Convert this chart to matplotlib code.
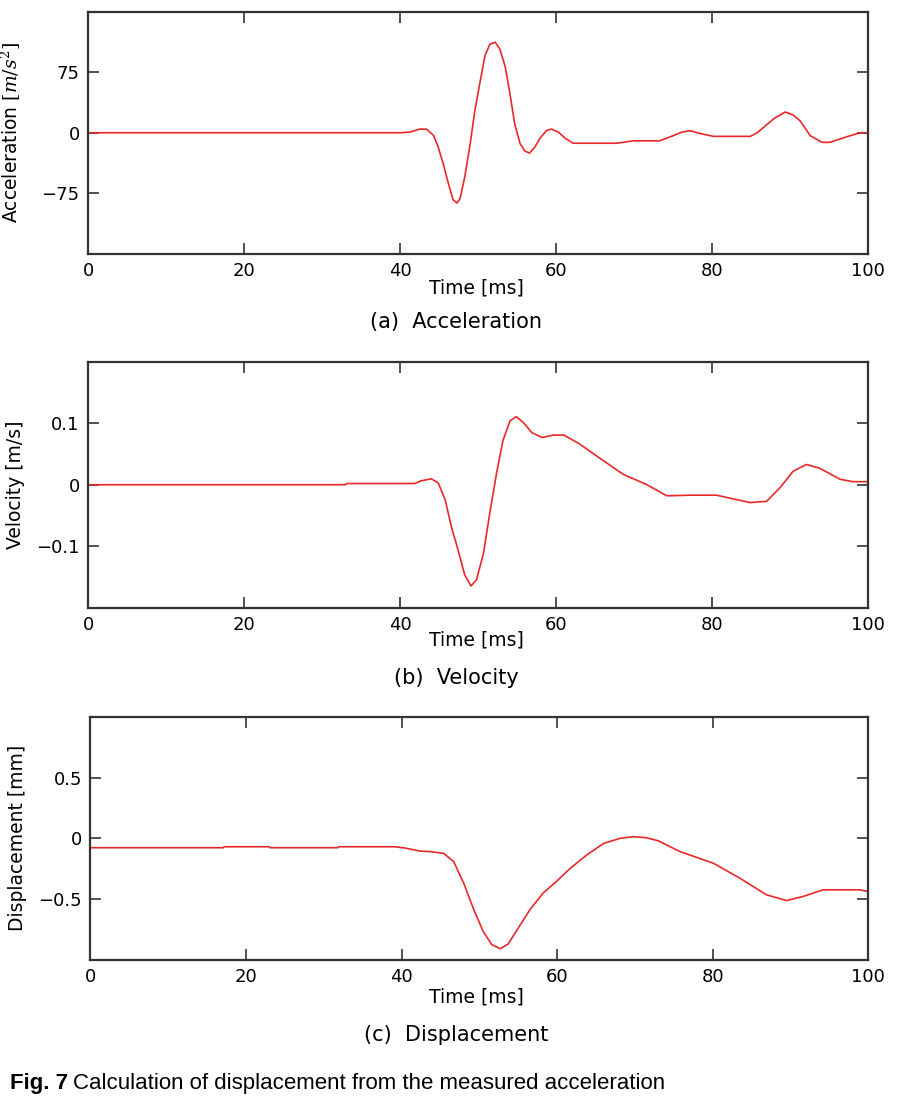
import numpy as np
import matplotlib
matplotlib.use("Agg")
import matplotlib.pyplot as plt

# ---- data (time in ms) ----
acc_t = [0, 40.0, 41.3, 42.5, 43.4, 44.3, 44.9, 45.6, 46.2, 46.8, 47.3, 47.7,
         48.3, 49.0, 49.6, 50.3, 50.9, 51.5, 52.2, 52.8, 53.5, 54.1, 54.7, 55.4,
         56.0, 56.6, 57.3, 57.9, 58.8, 59.4, 60.3, 61.2, 62.2, 67.8, 69.9, 73.3,
         75.0, 76.2, 77.2, 78.5, 80.2, 84.9, 85.8, 86.6, 88.0, 89.4, 90.4, 91.3,
         92.6, 94.1, 95.1, 97.3, 99.0, 100]
acc_v = [0, 0, 0.8, 4.5, 4.5, -3.3, -17.8, -40.5, -63, -83, -87.3, -82,
         -55, -13.6, 27.7, 65, 96, 109.6, 112.5, 104, 81.5, 48.4, 11.2, -13.6,
         -22.7, -25.2, -17.8, -7.4, 2.9, 4.5, 0.8, -7, -13, -13, -10, -10,
         -3.7, 1, 2.5, -1, -4.5, -4.5, 0, 6.6, 18, 25.8, 22, 14.8,
         -3.7, -11.9, -11.9, -4.9, 0, 0]

vel_t = [0, 33.0, 33.2, 41.9, 42.6, 44.0, 44.9, 45.8, 46.6, 47.5, 48.3, 49.1,
         49.8, 50.7, 51.5, 52.4, 53.2, 54.1, 54.9, 55.8, 56.9, 58.2, 59.7, 61.0,
         62.9, 65.2, 68.6, 71.6, 74.2, 77.2, 80.6, 82.7, 84.9, 87.0, 88.7, 90.4,
         92.1, 93.8, 96.4, 98.1, 100]
vel_v = [0, 0, 0.002, 0.002, 0.006, 0.0097, 0.003, -0.025, -0.069, -0.109, -0.147, -0.165,
         -0.155, -0.112, -0.047, 0.0205, 0.072, 0.104, 0.111, 0.1016, 0.085, 0.077, 0.081, 0.081,
         0.0675, 0.047, 0.017, 0.0005, -0.018, -0.017, -0.017, -0.023, -0.029, -0.027, -0.005, 0.022,
         0.033, 0.027, 0.009, 0.005, 0.005]

disp_t = [0, 17.1, 17.2, 23.0, 23.1, 31.8, 31.9, 39.1, 40.5, 42.4, 43.7, 45.4,
          46.7, 48.0, 49.3, 50.5, 51.6, 52.7, 53.7, 55.0, 56.5, 58.2, 59.9, 61.7,
          63.8, 66.0, 68.1, 69.8, 71.5, 73.0, 75.8, 80.1, 83.5, 86.9, 89.5, 91.6,
          94.2, 98.9, 100]
disp_v = [-0.077, -0.077, -0.069, -0.069, -0.077, -0.077, -0.069, -0.069, -0.08, -0.105, -0.109, -0.123,
          -0.19, -0.369, -0.587, -0.765, -0.874, -0.907, -0.869, -0.738, -0.587, -0.45, -0.355, -0.246,
          -0.137, -0.041, 0.0, 0.0137, 0.005, -0.02, -0.109, -0.205, -0.328, -0.464, -0.511, -0.478,
          -0.423, -0.423, -0.437]

xticks = [0, 20, 40, 60, 80, 100]

panels = [
    dict(t=acc_t, v=acc_v, ylim=(-150, 150), yticks=[-75, 0, 75],
         yticklabels=["\u221275", "0", "75"],
         ylabel="Acceleration $[m/s^2]$", caption="(a)  Acceleration",
         rect=[88 / 902, 1 - 253.5 / 1098, 780 / 902, 241.5 / 1098],
         ylab_x=23, time_y=288, cap_y=322),
    dict(t=vel_t, v=vel_v, ylim=(-0.2, 0.2), yticks=[-0.1, 0, 0.1],
         yticklabels=["\u22120.1", "0", "0.1"],
         ylabel="Velocity [m/s]", caption="(b)  Velocity",
         rect=[88 / 902, 1 - 607.5 / 1098, 780 / 902, 245.5 / 1098],
         ylab_x=25, time_y=640, cap_y=678),
    dict(t=disp_t, v=disp_v, ylim=(-1, 1), yticks=[-0.5, 0, 0.5],
         yticklabels=["\u22120.5", "0", "0.5"],
         ylabel="Displacement [mm]", caption="(c)  Displacement",
         rect=[90.3 / 902, 1 - 960 / 1098, 778 / 902, 243.3 / 1098],
         ylab_x=27, time_y=997, cap_y=1035),
]

plt.rcParams["font.family"] = ["DejaVu Sans"]
plt.rcParams["mathtext.fontset"] = "dejavuserif"

W, H = 902, 1098
fig = plt.figure(figsize=(W / 100, H / 100), dpi=100)

for p in panels:
    ax = fig.add_axes(p["rect"])
    ax.plot(p["t"], p["v"], color="#e8282a", lw=1.2)
    ax.set_xlim(0, 100)
    ax.set_ylim(*p["ylim"])
    ax.set_xticks(xticks)
    ax.set_yticks(p["yticks"])
    ax.set_yticklabels(p["yticklabels"])
    ax.tick_params(direction="in", top=True, right=True, length=8, width=1.2,
                   color="#333333", labelsize=13, pad=6)
    for s in ax.spines.values():
        s.set_color("#333333")
        s.set_linewidth(1.6)
    ax.set_ylabel(p["ylabel"], fontsize=13.5)
    x0 = p["rect"][0] * W
    ax.yaxis.set_label_coords((p["ylab_x"] - x0) / (p["rect"][2] * W), 0.5)
    fig.text(476 / W, 1 - p["time_y"] / H, "Time [ms]", fontsize=13.5,
             ha="center", va="center")
    fig.text(456 / W, 1 - p["cap_y"] / H, p["caption"], fontsize=15,
             ha="center", va="center")

# figure caption, "Fig. 7" in bold
t1 = fig.text(10 / W, 1 - 1083 / H, "Fig. 7", fontsize=16, fontweight="bold",
              family=["Liberation Sans", "DejaVu Sans"], ha="left", va="center")
r = fig.canvas.get_renderer()
bb = t1.get_window_extent(renderer=r)
fig.text((bb.x1 + 5) / W, 1 - 1083 / H,
         "Calculation of displacement from the measured acceleration",
         fontsize=16, family=["Liberation Sans", "DejaVu Sans"],
         ha="left", va="center")

fig.savefig("out.png", dpi=100)
